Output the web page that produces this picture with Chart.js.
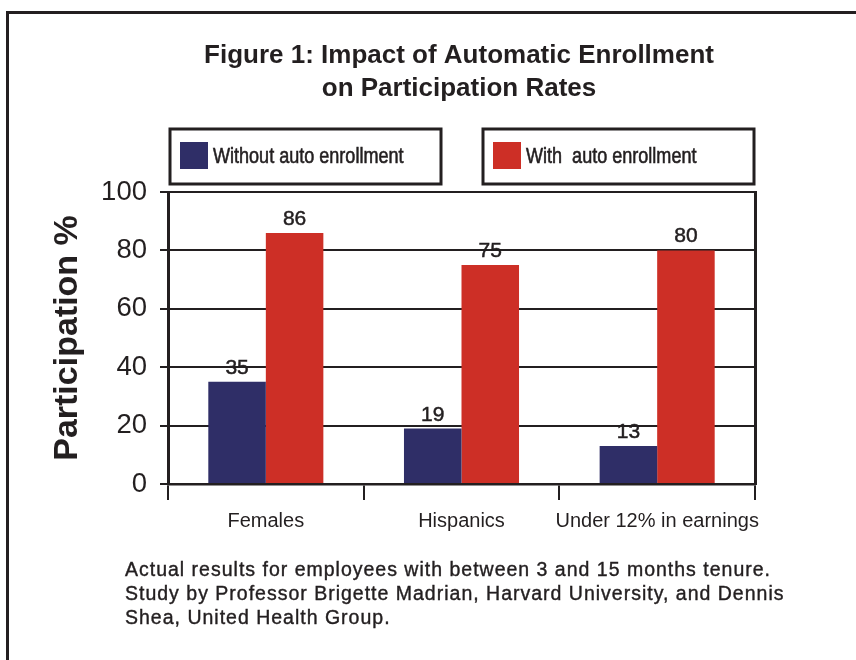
<!DOCTYPE html>
<html>
<head>
<meta charset="utf-8">
<title>Figure 1: Impact of Automatic Enrollment on Participation Rates</title>
<script src="https://cdn.jsdelivr.net/npm/chart.js@4.4.1/dist/chart.umd.min.js"></script>
<style>
    html, body { margin: 0; padding: 0; background: #ffffff; }
    #wrap { position: relative; width: 856px; height: 660px; overflow: hidden; }
    #frame {
        position: absolute; left: 6px; top: 11px; width: 900px; height: 700px;
        border-left: 3px solid #231f20; border-top: 3px solid #231f20;
    }
    #chart { position: absolute; left: 0; top: 0; }
    #note {
        position: absolute; left: 125px; top: 557px;
        font-family: 'Liberation Sans', Arial, sans-serif;
        font-size: 19.5px; line-height: 24px; letter-spacing: 1px;
        -webkit-text-stroke: 0.4px #231f20;
        color: #231f20; white-space: nowrap;
    }
</style>
</head>
<body>
<div id="wrap">
    <div id="frame"></div>
    <canvas id="chart" width="856" height="660"></canvas>
    <div id="note">
        Actual results for employees with between 3 and 15 months tenure.<br>
        Study by Professor Brigette Madrian, Harvard University, and Dennis<br>
        Shea, United Health Group.
    </div>
</div>
<script>
// Chart data
const categories = ['Females', 'Hispanics', 'Under 12% in earnings'];
const seriesNames = ['Without auto enrollment', 'With  auto enrollment'];
const withoutAuto = [35, 19, 13];
const withAuto = [86, 75, 80];
const titleLines = ['Figure 1: Impact of Automatic Enrollment', 'on Participation Rates'];

const ink = '#231f20';
const sans = "'Liberation Sans', Arial, sans-serif";

// Boxed legend above the plot
const boxedLegend = {
    id: 'boxedLegend',
    afterDraw(chart) {
        const ctx = chart.ctx;
        const area = chart.chartArea;
        const boxW = 271, boxH = 55;
        const top = area.top - 63;
        const lefts = [area.left + 2, area.right - 1 - boxW];
        ctx.save();
        chart.data.datasets.forEach((ds, i) => {
            const x = lefts[i];
            ctx.lineWidth = 3;
            ctx.strokeStyle = ink;
            ctx.strokeRect(x, top, boxW, boxH);
            ctx.fillStyle = ds.backgroundColor;
            ctx.fillRect(x + 10, top + 13, 28, 27);
            // condensed text, the source uses a narrow face
            ctx.save();
            ctx.translate(x + 43, top + 34);
            ctx.scale(0.82, 1);
            ctx.fillStyle = ink;
            ctx.strokeStyle = ink;
            ctx.lineWidth = 0.6;
            ctx.font = '22px ' + sans;
            ctx.textAlign = 'left';
            ctx.textBaseline = 'alphabetic';
            ctx.fillText(ds.label, 0, 0);
            ctx.strokeText(ds.label, 0, 0);
            ctx.restore();
        });
        ctx.restore();
    }
};

// Value labels above bars
const valueLabels = {
    id: 'valueLabels',
    afterDatasetsDraw(chart) {
        const ctx = chart.ctx;
        ctx.save();
        ctx.font = '21px ' + sans;
        ctx.fillStyle = ink;
        ctx.strokeStyle = ink;
        ctx.lineWidth = 0.5;
        ctx.textAlign = 'center';
        ctx.textBaseline = 'alphabetic';
        chart.data.datasets.forEach((ds, i) => {
            chart.getDatasetMeta(i).data.forEach((bar, j) => {
                ctx.fillText(String(ds.data[j]), bar.x, bar.y - 8);
                ctx.strokeText(String(ds.data[j]), bar.x, bar.y - 8);
            });
        });
        ctx.restore();
    }
};

new Chart(document.getElementById('chart'), {
    type: 'bar',
    data: {
        labels: categories,
        datasets: [{
            label: seriesNames[0],
            data: withoutAuto,
            backgroundColor: '#2f2e67',
            borderWidth: 0,
            categoryPercentage: 0.588,
            barPercentage: 1
        }, {
            label: seriesNames[1],
            data: withAuto,
            backgroundColor: '#cd2f26',
            borderWidth: 0,
            categoryPercentage: 0.588,
            barPercentage: 1
        }]
    },
    options: {
        responsive: false,
        animation: false,
        layout: {
            padding: { left: 62, right: 0, top: 0, bottom: 116 }
        },
        plugins: {
            legend: { display: false },
            tooltip: { enabled: false },
            title: {
                display: true,
                text: titleLines,
                color: ink,
                font: { family: sans, size: 26, weight: 'bold', lineHeight: '33px' },
                padding: { top: 39.5, bottom: 86.5 }
            }
        },
        scales: {
            x: {
                grid: {
                    display: true,
                    drawOnChartArea: false,
                    drawTicks: true,
                    offset: true,
                    tickLength: 16,
                    lineWidth: 2,
                    color: ink
                },
                border: { display: true, color: ink, width: 2.5 },
                ticks: {
                    color: ink,
                    padding: 9,
                    autoSkip: false,
                    maxRotation: 0,
                    font: { family: sans, size: 20 }
                },
                afterFit: s => { s.height = 60; }
            },
            y: {
                min: 0,
                max: 100,
                ticks: {
                    stepSize: 20,
                    color: ink,
                    padding: 13,
                    font: { family: sans, size: 27.5 }
                },
                grid: {
                    color: ink,
                    lineWidth: 2,
                    tickLength: 8,
                    drawTicks: true
                },
                border: { display: true, color: ink, width: 3 },
                title: {
                    display: true,
                    text: 'Participation %',
                    color: ink,
                    padding: { top: 3, bottom: 0 },
                    font: { family: sans, size: 34, weight: 'bold', lineHeight: 0.15 }
                },
                afterFit: s => { s.width = 106; }
            },
            y2: {
                position: 'right',
                min: 0,
                max: 100,
                ticks: { display: false },
                grid: { display: false },
                border: { display: true, color: ink, width: 3 },
                afterFit: s => { s.width = 101; }
            }
        }
    },
    plugins: [boxedLegend, valueLabels]
});
</script>
</body>
</html>
